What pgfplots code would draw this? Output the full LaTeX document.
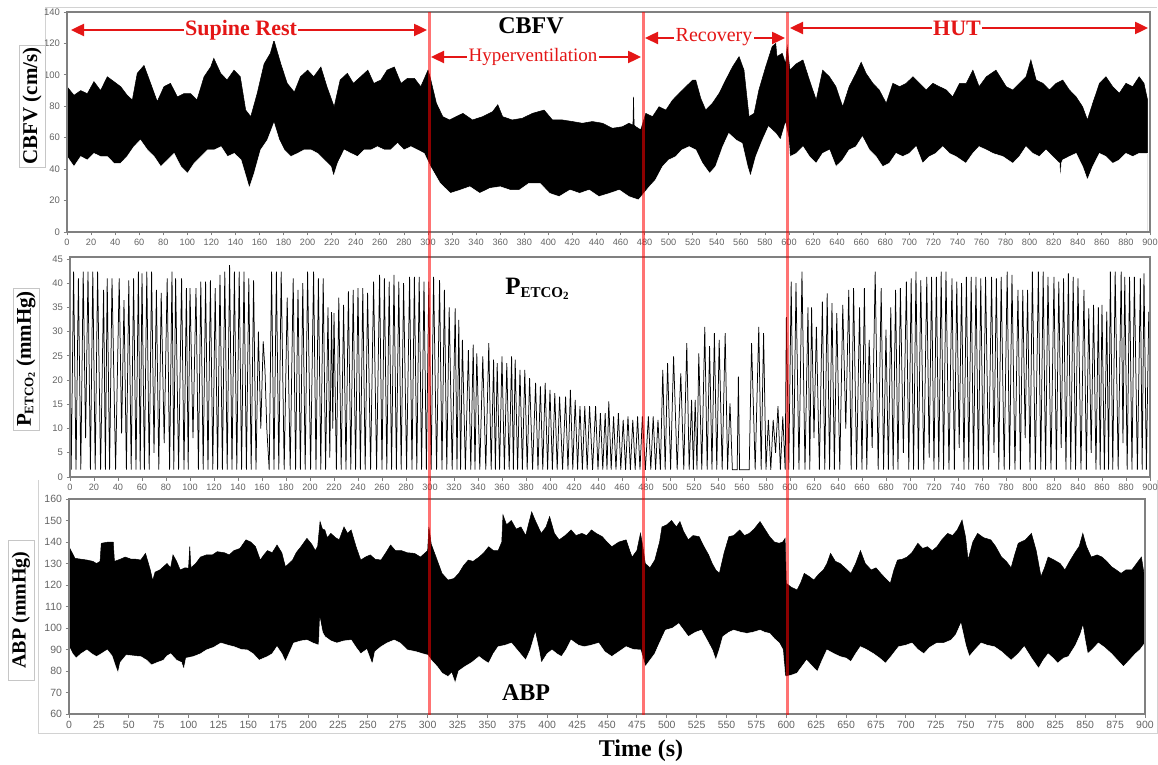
\documentclass[border=0pt]{standalone}
\usepackage{fontspec}
\setmainfont{Liberation Serif}
\newfontfamily\ticksans{Liberation Sans}
\usepackage{pgfplots}
\pgfplotsset{compat=1.18}
\usetikzlibrary{arrows.meta}
\definecolor{tickgray}{RGB}{100,100,100}
\definecolor{framegray}{RGB}{128,128,128}
\definecolor{annred}{RGB}{228,22,22}
\pgfplotsset{panel/.style={scale only axis, anchor=south west, xmin=0, xmax=900,
  axis on top,
  axis line style={draw=framegray, line width=1.3pt},
  tick align=outside, major tick length=3.5pt,
  tick style={draw=framegray, line width=0.8pt},
  xtick pos=bottom, ytick pos=left,
  /pgf/number format/assume math mode=true,
  ticklabel style={text=tickgray},
  xticklabel style={font=\ticksans\fontsize{9.2}{10}\selectfont},
  yticklabel style={font=\ticksans\fontsize{9.5}{10}\selectfont}}}
\begin{document}
\begin{tikzpicture}
\useasboundingbox (0pt,0pt) rectangle (1158pt,764pt);
% light outer frames
\draw[gray!35, line width=0.8pt] (45pt,719pt) -- (45pt,757pt) -- (1157pt,757pt);
\draw[gray!35, line width=0.8pt] (38pt,284pt) -- (38pt,31pt) -- (1157pt,31pt) -- (1157pt,284pt);
% ---------------- CBFV ----------------
\begin{axis}[panel, at={(67pt,532pt)}, width=1083pt, height=220pt,
  ymin=0, ymax=140, xtick={0,20,...,900}, ytick={0,20,...,140}]
% upper envelope, filled down
\addplot[black, fill=black, line width=0.5pt] coordinates {
(0,92.5) (5.8,87) (11.4,90) (16.9,88) (22.4,95.7) (27.9,90) (33.5,98.8) (39,95.7) (44.6,92.5) (50,87) (54.3,84) (58.4,101) (64,106) (69.5,94.6) (75,83) (80.6,92.5) (86,94.6) (91.7,86) (97,88) (102.8,88) (108,84) (113.9,98.8) (119.4,105) (122,110.5) (127.7,101) (133,96.7) (138.8,103) (144,98.8) (148.5,77.6) (152.7,73.4) (158,88) (163.8,107) (169,113.7) (172,122) (173.5,118) (177.7,107) (183,94.6) (188.9,89) (194,98.8) (200,103) (205,98.8) (211,105) (216,92.5) (222,79.7) (227,96.7) (233,101) (238,94.6) (244,98.8) (250,103) (255,94.6) (260.8,96.7) (266,103) (272,105) (277.6,94.6) (283,97.8) (288.7,97.8) (294,92.5) (300,103) (301.7,98.8) (307,81.9) (312.3,73.4) (317.8,71.3) (323.4,73.4) (329,75.5) (337,71.3) (345.4,73.4) (353.7,76.6) (358,81) (362,73.4) (370,71.3) (378.5,72.4) (386.8,75.5) (396.5,77.6) (403.4,71.3) (411.7,71.3) (420,70.3) (428.3,69.2) (436.6,70.3) (445,69.2) (453.3,66) (461.6,67) (467,69.2) (470.3,68) (470.8,86) (471.3,68) (472.7,67) (476.8,65) (481,75.5) (486.6,73.4) (492,79.7) (497.7,77.6) (503.3,84) (508.8,88.3) (514.3,92.5) (520,96.7) (522.5,96.7) (526.7,85) (530.8,77.6) (536.3,81.9) (542,88.3) (547.4,96.7) (553,105) (558.5,111.6) (562.6,103) (566.8,73.4) (571,75.5) (575,90.4) (580.6,105) (586,118) (589,120) (590,111.6) (594.4,113.7) (597.2,107) (598.5,118) (600.8,103) (606,107) (611.6,109.5) (617,96.7) (622.6,84) (628,103) (633.6,98.8) (639,92.5) (644.6,79.7) (650,92.5) (655.7,101) (660,108) (664,101) (669.7,94.6) (675,90.4) (680.8,81.9) (686.3,94.6) (692,92.5) (697.4,94.6) (703,98.8) (708.5,94.6) (714,90.4) (719.6,94.6) (725,92.5) (730.7,90.4) (736,86) (741.8,94.6) (747.3,94.6) (752.8,103) (758,92.5) (764,98.8) (772,103) (780.5,92.5) (786,90.4) (791.5,94.6) (797,98.8) (801,109.5) (805.4,96.7) (811,94.6) (816.4,90.4) (822,94.6) (827.5,96.7) (833,90.4) (838.6,86) (844,79.7) (848,71.3) (852.4,81.9) (858,94.6) (863.4,98.8) (869,92.5) (874.5,88.3) (880,94.6) (885.6,92.5) (891,98.8) (895,94.6) (898,84)} \closedcycle;
% lower envelope, cleared below
\addplot[white, fill=white, line width=0.5pt] coordinates {
(0,48) (5.8,41.6) (11.4,48) (16.9,45.8) (22.4,50) (27.9,48) (33.5,48) (39,43.7) (44.6,43.7) (50,48) (55.7,54.3) (61,58.5) (66.8,52.2) (72.4,48) (78,41.6) (83.5,45.8) (89,50) (94.6,41.6) (100.2,37.3) (105.7,43.7) (111.3,48) (116.8,52.2) (122.4,52.2) (128,54.3) (133.4,48) (139,50) (144.6,45.8) (148.7,35.2) (151.5,27.8) (155.6,37.3) (161,52.2) (166.6,58.5) (172,69.2) (176.3,58.5) (180.5,52.2) (186,48) (191.6,50) (197,52.2) (202.8,52.2) (208.3,50) (213.8,45.8) (219.3,41.6) (221.5,35.2) (225,43.7) (230.4,52.2) (236,50) (241.5,48) (247,52.2) (252.6,52.2) (258,54.3) (263.6,52.2) (269,52.2) (274.7,56.4) (280,52.2) (285.8,54.3) (291.3,52.2) (296.8,50) (301.7,42) (310,31) (318.6,24.6) (327,26.7) (334.8,28.8) (343,24.6) (351.6,27.8) (360,28.8) (368,26.7) (376,26.7) (384,31) (393,31) (401,24.6) (409,22.5) (418,26.7) (426,24.6) (434,26.7) (442,22.5) (451,24.6) (459,26.7) (467,22.5) (475,20.4) (484,28.8) (489,33) (495,41.6) (500,45.8) (506,48) (511,52.2) (517,54.3) (522.5,52.2) (528,43.7) (534,37.3) (539,41.6) (545,54.3) (550,62.7) (556,58.5) (561,56.4) (565.5,41.6) (568,35.2) (572.5,48) (578,58.5) (583,67) (589,62.7) (593,58.5) (597,69) (599.5,60) (600.8,48) (606,50) (611.6,54.3) (617,48) (622.6,43.7) (628,50) (633.6,52.2) (639,41.6) (644.6,45.8) (650,52.2) (655.7,54.3) (661,60.6) (666.8,52.2) (672.3,48) (677.8,41.6) (683.4,43.7) (689,50) (694.5,48) (700,50) (705.6,54.3) (711,43.7) (716.7,48) (722,50) (727.8,54.3) (733.3,50) (738.8,48) (747,43.7) (752.8,50) (758,54.3) (764,52.2) (769.4,50) (777.7,48) (786,43.7) (791.5,48) (797,54.3) (802.6,50) (808,48) (813.6,52.2) (819,48) (824.8,43.7) (825.6,31) (826.4,43.7) (827.5,45.8) (833,48) (838.6,50) (844,41.6) (848,33) (852.4,41.6) (858,50) (863.4,48) (869,43.7) (874.5,45.8) (880,50) (885.6,48) (891,50) (895,50) (898,50)} \closedcycle;
\end{axis}
% ---------------- PETCO2 ----------------
\begin{axis}[panel, at={(70pt,287pt)}, width=1080pt, height=220pt,
  ymin=0, ymax=45.4, xtick={0,20,...,900}, ytick={0,5,...,45}]
\addplot[black, line width=0.75pt] coordinates {
(0,28) (1,1.5) (3,42.4) (5,1.5) (7,41) (9,1.5) (11,42.4) (13,8) (15,42.4) (17,1.5) (19,42.4) (21,1.5) (23,42.4) (25.5,1.5) (28,38.6) (29.5,1.5) (31,41) (33,1.5) (35,41) (38,1.5) (41,41) (43,9) (45,36.5) (47,1.5) (49,40.6) (51,1.5) (53,41) (55,1.5) (57,42.4) (58.5,1.5) (60,42) (62,1.5) (64,42.4) (66,1.5) (68,42.4) (70,5) (72,38.6) (74,1.5) (76,38) (78.5,7) (81,41) (83,1.5) (85,42.4) (86.5,1.5) (88,41) (90.5,1.5) (93,41) (95,1.5) (97,39) (98.5,1.5) (100,39) (102.5,8) (105,39) (107,1.5) (109,40.3) (111,1.5) (113,40.3) (115,1.5) (117,40.6) (119,1.5) (121,39) (123,1.5) (125,41.7) (127,1.5) (129,42.4) (131,1.5) (133,43.7) (135,1.5) (137,42.4) (139,1.5) (141,42.4) (143,1.5) (145,42.4) (147,1.5) (149,41) (151,1.5) (153,40.6) (155,1.5) (157,30) (159,10) (161,28) (162.5,22) (164,10) (166,1.5) (168,42.4) (170,1.5) (172,42.4) (174,1.5) (176,42.4) (178.5,1.5) (181,37) (183.5,1.5) (186,41) (188,1.5) (190,38.6) (192,1.5) (194,40) (196,1.5) (198,42.4) (200.5,1.5) (203,42.4) (205,1.5) (207,41) (209,1.5) (211,41) (213,1.5) (215,35) (216.5,4) (218,34) (219,10) (220,33.8) (222,1.5) (224,37) (226,1.5) (228,35.5) (230,1.5) (232,38.3) (234,1.5) (236,38.6) (238,1.5) (240,39) (242,1.5) (244,39) (246,1.5) (248,38) (250.5,1.5) (253,40.3) (255.5,1.5) (258,41.7) (260,1.5) (262,41) (264,1.5) (266,40.3) (268,1.5) (270,41.7) (272,1.5) (274,40.3) (276,1.5) (278,40) (280.5,1.5) (283,41.3) (285,1.5) (287,41.3) (289,1.5) (291,41.3) (293,1.5) (295,40.3) (297,1.5) (299,40.3) (301,1.5) (303,41.3) (305.5,1.5) (308,40.6) (310,1.5)
(312,38.6) (314,1.5) (316,35) (318.5,1.5) (321,34.8) (322.5,1.5) (324,32.4) (325.5,1.5) (327,28.3) (329.5,1.5) (332,26.2) (334,1.5) (336,27.3) (337.5,1.5) (339,25.5) (341.5,1.5) (344,24.9) (346.5,1.5) (349,27.6) (351,1.5) (353,24.2) (354.5,1.5) (356,23.5) (358,1.5) (360,24.9) (362,1.5) (364,23.5) (366,1.5) (368,24.9) (369.5,1.5) (371,24.2) (373,1.5) (375,22.1) (377,1.5) (379,22.1) (381,1.5) (383,20.4) (385.5,1.5) (388,19.4) (390,1.5) (392,18.7) (394,1.5) (396,19.4) (398,1.5) (400,18) (402,1.5) (404,17.3) (406,1.5) (408,16.6) (410.5,1.5) (413,16.6) (415,1.5) (417,18) (419,1.5) (421,15.9) (423,1.5) (425,14.6) (427,1.5) (429,14.6) (431,1.5) (433,14.6) (435.5,1.5) (438,14.6) (440,1.5) (442,13.2) (444,1.5) (446,13.2) (447.5,1.5) (449,15.6) (451,1.5) (453,12.5) (455,1.5) (457,13.2) (459,1.5) (461,11.8) (463,1.5) (465,12.5) (467,1.5) (469,11.8) (471,1.5) (473,12.5) (475,1.5) (477,12.5) (479.5,1.5) (482,12.5) (484,1.5) (486,12.5) (488,1.5) (490,11.8) (492,1.5)
(494,22.1) (496,1.5) (498,23.5) (500.5,1.5) (503,24.9) (506,1.5) (509,21.4) (511.5,1.5) (514,27.6) (516,1.5) (518,15.9) (519.5,1.5) (521,15.9) (522.5,1.5) (524,25.5) (526.5,1.5) (529,31) (531,1.5) (533,27) (535,1.5) (537,29.7) (539,1.5) (541,28.3) (543.5,1.5) (546,29.7) (548,1.5) (550,15.2) (552,1.5) (556,1.5) (557,20.7) (558,1.5) (566,1.5) (568,27.6) (571,1.5) (574,31) (576,1.5) (578,29.7) (580,1.5) (582,11.8) (584,1.5) (586,11.8) (588,5) (590,14.6) (592,1.5) (594,12.5) (596,1.5) (597,33) (599,1.5)
(601,40.3) (603,1.5) (605,40) (607.5,1.5) (610,42.4) (612.5,1.5) (615,35) (616.5,1.5) (618,35) (620,8) (622,31) (624.5,1.5) (627,36.2) (629,1.5) (631,37.9) (633,1.5) (635,35.9) (637,1.5) (639,33.8) (641.5,1.5) (644,35.5) (646.5,10) (649,38.6) (651,1.5) (653,39) (655.5,1.5) (658,35) (660,1.5) (662,39) (664,1.5) (666,28.3) (668.5,6) (671,42.4) (673.5,1.5) (676,39) (678,1.5) (680,30.4) (682,1.5) (684,35) (686,1.5) (688,38.6) (690,1.5) (692,39) (694.5,5) (697,40.3) (699,1.5) (701,41) (703,1.5) (705,42.4) (707,1.5) (709,40.6) (711.5,1.5) (714,41.3) (716,4) (718,41.3) (720,1.5) (722,41.3) (724,1.5) (726,42.4) (728,1.5) (730,42.4) (732.5,1.5) (735,41) (737,1.5) (739,40.3) (741,6) (743,40) (745,1.5) (747,41.3) (749,1.5) (751,41.3) (753,1.5) (755,41.3) (757,1.5) (759,41) (761,1.5) (763,41.3) (765.5,1.5) (768,41.3) (770,5) (772,41) (774,1.5) (776,41.3) (778.5,1.5) (781,42.4) (783,1.5) (785,41.7) (787.5,1.5) (790,38.6) (792,1.5) (794,38.6) (796,8) (798,38.6) (800,1.5) (802,42.4) (804.5,1.5) (807,42.4) (809,1.5) (811,42.4) (813,1.5) (815,41.3) (817.5,1.5) (820,41.3) (822,1.5) (824,40.3) (826,6) (828,41) (830,1.5) (832,42) (834,1.5) (836,41.3) (838,1.5) (840,41) (842.5,1.5) (845,38.6) (847,1.5) (849,34.8) (851,5) (853,35.5) (855,1.5) (857,35) (858.5,1.5) (860,35.5) (862,1.5) (864,34.1) (865.5,1.5) (867,42.4) (869,1.5) (871,42.4) (873.5,1.5) (876,42.4) (877.5,7) (879,41.3) (881,1.5) (883,41.3) (885,1.5) (887,41.3) (889.5,1.5) (892,41) (893.5,1.5) (895,42) (897,1.5) (899,34.1)};
\end{axis}
% ---------------- ABP ----------------
\begin{axis}[panel, at={(69pt,50pt)}, width=1076pt, height=215pt,
  ymin=60, ymax=160, xtick={0,25,...,900}, ytick={60,70,...,160},
  xticklabel style={font=\ticksans\fontsize{10.5}{11}\selectfont},
  yticklabel style={font=\ticksans\fontsize{10.5}{11}\selectfont}]
\addplot[black, fill=black, line width=0.5pt] coordinates {
(0,137.8) (5,132.4) (10,132) (15,131.6) (20,131) (23,130) (26,131) (27,139.4) (33,140) (37,140) (38,131) (43,132) (47,133) (52,132) (56,132) (60,131.6) (64,134.7) (68,127) (70,122) (72,126) (76,127) (82,130) (85,128) (87,134) (90,131) (93,127) (97,128) (100,127.8) (101,137.8) (102,128) (106,130) (110,133) (115,134) (120,134) (124,135.5) (130,135) (134,134) (138,136) (143,137) (148,141) (152,140) (156,137.8) (160,131.6) (163,134) (166,136) (170,135) (174,138.6) (178,135) (181,128.5) (184,130) (187,131.6) (190,135) (194,137.8) (199,141.7) (203,139) (206,136) (208,138) (210,149.5) (212,146) (214,145.6) (216,142) (219,144) (223,142) (226,141) (230,147) (233,144) (236,145.6) (240,138) (244,131.6) (248,133) (252,134) (256,132) (261,131.6) (265,135) (269,138.6) (273,136) (278,136) (283,135) (289,134.7) (294,133) (300,136) (301,147) (303,139) (307,133) (312,125.4) (317,122.3) (322,123) (326,125.4) (330,129) (334,131.6) (338,131) (343,133) (347,135) (351,137.8) (355,136) (359,136) (362,140) (363,152.6) (366,148) (370,150) (374,146) (378,147) (382,143) (387,154) (390,150) (395,144) (399,147) (402,151.8) (406,144) (410,141) (415,143) (420,145.6) (424,143) (429,144) (433,143) (437,145.6) (441,144) (446,142.5) (450,140) (454,137.8) (460,140) (466,141) (469,136) (471,133) (475,136) (478,144) (480,138) (482,130) (486,128) (490,131.6) (494,140) (496,147) (500,148) (504,150) (508,147) (511,149.5) (514,145) (518,141) (522,143) (527,142.5) (531,138) (535,134) (538,130) (541,127) (544,125.4) (548,135) (552,142.5) (556,143) (561,145.6) (565,143) (569,144) (573,146) (578,149.5) (582,146) (586,142.5) (590,140) (594,139.4) (597,140) (599,141.7) (600,120.8) (604,119) (609,117.7) (612,121) (615,125.4) (619,124) (623,122.3) (627,125) (631,127) (634,130) (637,134.7) (641,131) (645,130) (649,128) (654,125.4) (658,130) (662,136) (666,130) (671,127) (675,128) (679,125.4) (683,123) (687,120.8) (690,127) (693,131.6) (697,132) (701,133) (705,135) (710,139.4) (714,137) (718,137.8) (722,136) (726,137.8) (730,141) (735,144) (739,143) (743,145.6) (747,150.2) (750,142) (752,131.6) (756,140) (760,144) (765,142) (771,141) (775,138) (780,133) (784,131) (788,128) (791,134) (794,139.4) (800,141) (805,144) (809,136) (813,123.9) (816,128) (819,133) (824,131.6) (829,130) (833,127) (837,131) (841,134.7) (845,138) (848,144) (851,138) (855,133) (860,134) (864,133) (868,131) (872,128.5) (876,127) (880,125.4) (884,127) (889,127) (893,130) (897,133) (900,122.3)} \closedcycle;
\addplot[white, fill=white, line width=0.5pt] coordinates {
(0,91.3) (3,88) (6,86) (10,88) (15,89.8) (19,88) (23,86.7) (27,88) (32,89.8) (36,87) (39,82) (41,79) (43,84) (48,87.4) (54,87) (60,86.7) (65,85) (69,82.8) (74,84) (79,85) (82,87) (85,88) (90,85) (94,84) (96,80.5) (98,86) (104,86.7) (110,88) (115,89.8) (121,91) (127,93) (133,92) (138,91.3) (144,90) (149,89.8) (154,88) (159,85) (163,86) (166,86.7) (170,88) (174,91.3) (178,88) (181,84.3) (184,88) (188,93) (194,94) (199,94.4) (204,93) (209,92) (210,103.7) (212,98) (214,96) (219,94) (224,93) (230,94) (236,94.4) (240,91) (244,88) (249,90) (253,84) (254,83.6) (256,89) (261,91.3) (266,93) (272,94.4) (277,93) (283,89.8) (290,89) (296,88) (300,87.4) (303,85) (308,82) (312,79) (317,77.4) (320,79) (323,74.3) (326,80) (331,82) (337,84) (343,86.7) (347,85) (351,83.6) (355,88) (359,91.3) (365,92) (370,93) (376,89) (382,85) (386,90) (390,97.5) (393,90) (395,83.6) (400,88) (404,89.8) (408,88) (412,86.7) (416,90) (420,94.4) (426,92) (431,91.3) (437,92) (443,93) (448,89) (454,86.7) (460,89) (466,91.3) (472,90) (478,89.8) (480,86) (482,82) (486,85) (490,88) (494,93) (499,99) (505,100) (510,102) (514,99) (518,96) (524,98) (529,99) (534,94) (538,89.8) (541,85) (544,90) (547,96) (552,98) (556,99) (562,98) (567,97.5) (572,98) (578,99) (582,98) (586,97.5) (590,95) (594,93) (597,90) (599,77.4) (604,78) (609,79) (613,82) (617,85) (622,82) (626,79.7) (630,85) (634,89.8) (640,88) (645,86.7) (650,86) (654,84.3) (658,88) (662,91.3) (667,90) (673,88) (678,86) (683,83.6) (688,87) (694,91.3) (700,92) (705,93) (710,90) (715,88) (720,91) (726,93) (732,93) (738,94.4) (742,97) (746,102) (750,92) (753,86.7) (758,90) (763,93) (768,92) (774,91.3) (780,89) (788,85) (794,88) (799,91.3) (805,86) (811,81.2) (815,85) (819,88) (823,86) (827,83.6) (832,86) (836,86.7) (842,92) (846,97) (848,100.6) (850,94) (852,88) (856,90) (861,93) (866,91) (872,88) (877,85) (882,82) (887,85) (892,88) (896,90) (900,93)} \closedcycle;
\end{axis}
% ---------------- phase lines ----------------
\draw[red, opacity=0.55, line width=3pt] (429pt,752pt) -- (429pt,49pt);
\draw[red, opacity=0.55, line width=3pt] (643pt,752pt) -- (643pt,49pt);
\draw[red, opacity=0.55, line width=3pt] (787pt,752pt) -- (787pt,49pt);
% ---------------- phase arrows ----------------
\tikzset{phase/.style={annred, line width=2.4pt, {Triangle[length=13pt,width=12pt]}-{Triangle[length=13pt,width=12pt]}}}
\draw[phase] (71pt,734pt) -- (427pt,734pt);
\node[fill=white, text=annred, inner sep=1.5pt, font=\bfseries\fontsize{22}{22}\selectfont] at (241pt,734pt) {Supine Rest};
\draw[phase] (431pt,707pt) -- (641pt,707pt);
\node[fill=white, text=annred, inner sep=1.5pt, font=\fontsize{19}{19}\selectfont] at (533pt,707pt) {Hyperventilation};
\draw[phase] (645pt,726pt) -- (785pt,726pt);
\node[fill=white, text=annred, inner sep=1.5pt, font=\fontsize{20}{20}\selectfont] at (714pt,727pt) {Recovery};
\draw[phase] (790pt,736pt) -- (1148pt,736pt);
\node[fill=white, text=annred, inner sep=1.5pt, font=\bfseries\fontsize{22}{22}\selectfont] at (957pt,736pt) {HUT};
% ---------------- titles ----------------
\node[font=\bfseries\fontsize{24}{24}\selectfont] at (531pt,738pt) {CBFV};
\node[font=\bfseries] at (537pt,475pt) {{\fontsize{25}{25}\selectfont P}\raisebox{-3pt}{\fontsize{15}{15}\selectfont ETCO\raisebox{-2pt}{\fontsize{11}{11}\selectfont 2}}};
\node[font=\bfseries\fontsize{24}{24}\selectfont] at (526pt,71pt) {ABP};
\node[font=\bfseries\fontsize{24}{24}\selectfont] at (641pt,13pt) {Time (s)};
% ---------------- y labels ----------------
\node[rotate=90, draw=gray!45, fill=white, minimum width=122pt, minimum height=26pt, inner sep=0pt, font=\bfseries\fontsize{21}{21}\selectfont] at (32pt,658pt) {CBFV (cm/s)};
\node[rotate=90, draw=gray!45, fill=white, minimum width=142pt, minimum height=26pt, inner sep=0pt, font=\bfseries] at (26pt,405pt) {{\fontsize{21}{21}\selectfont P}\raisebox{-2.5pt}{\fontsize{13}{13}\selectfont ETCO\raisebox{-1.5pt}{\fontsize{10}{10}\selectfont 2}}{\fontsize{21}{21}\selectfont\ (mmHg)}};
\node[rotate=90, draw=gray!45, fill=white, minimum width=140pt, minimum height=26pt, inner sep=0pt, font=\bfseries\fontsize{20}{20}\selectfont] at (21pt,154pt) {ABP (mmHg)};
\end{tikzpicture}
\end{document}
